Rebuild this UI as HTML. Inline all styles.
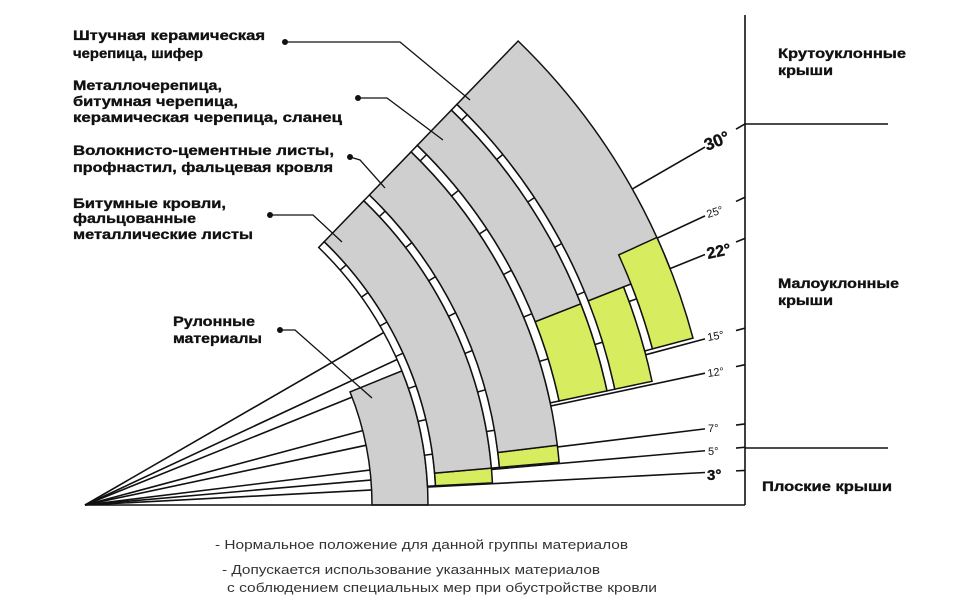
<!DOCTYPE html>
<html><head><meta charset="utf-8"><style>
html,body{margin:0;padding:0;background:#fff;}
svg{display:block}
.t{font-family:"Liberation Sans","DejaVu Sans",sans-serif;font-weight:bold;font-size:14px;fill:#111;stroke:#111;stroke-width:0.35}
.l{font-family:"Liberation Sans","DejaVu Sans",sans-serif;font-size:13px;fill:#333}
</style></head><body>
<svg id="s" width="974" height="604" viewBox="0 0 974 604" xmlns="http://www.w3.org/2000/svg">
<g id="lines" stroke="#111" stroke-width="1.6" fill="none"></g>
<g id="shapes" stroke="#111" stroke-width="1.5"></g>
<g stroke="#111" stroke-width="1.6" fill="none">
<line x1="745" y1="15" x2="745" y2="505"/>
<line x1="85" y1="505" x2="745" y2="505"/>
<line x1="745" y1="124" x2="888" y2="124"/>
<line x1="745" y1="448" x2="888" y2="448"/>
</g>
<g id="ticks" stroke="#111" stroke-width="1.6"></g>
<g stroke="#111" stroke-width="1.3" fill="none">
<polyline points="285,42 400,42 470,100"/>
<polyline points="358,98 387,98 443,140"/>
<polyline points="350,157 360,160 385,188"/>
<polyline points="270,215 313,215 342,242"/>
<polyline points="280,330 295,330 372,398"/>
</g>
<g fill="#111">
<circle cx="285" cy="42" r="3"/><circle cx="358" cy="98" r="3"/><circle cx="350" cy="157" r="3"/><circle cx="270" cy="215" r="3"/><circle cx="280" cy="330" r="3"/>
</g>
<text class="t" x="73" y="40" textLength="192" lengthAdjust="spacingAndGlyphs">Штучная керамическая</text>
<text class="t" x="73" y="58" textLength="130" lengthAdjust="spacingAndGlyphs">черепица, шифер</text>
<text class="t" x="73" y="90" textLength="149" lengthAdjust="spacingAndGlyphs">Металлочерепица,</text>
<text class="t" x="73" y="106" textLength="165" lengthAdjust="spacingAndGlyphs">битумная черепица,</text>
<text class="t" x="73" y="122" textLength="269" lengthAdjust="spacingAndGlyphs">керамическая черепица, сланец</text>
<text class="t" x="73" y="155" textLength="261" lengthAdjust="spacingAndGlyphs">Волокнисто-цементные листы,</text>
<text class="t" x="73" y="172" textLength="260" lengthAdjust="spacingAndGlyphs">профнастил, фальцевая кровля</text>
<text class="t" x="73" y="208" textLength="153" lengthAdjust="spacingAndGlyphs">Битумные кровли,</text>
<text class="t" x="73" y="223" textLength="123" lengthAdjust="spacingAndGlyphs">фальцованные</text>
<text class="t" x="73" y="239" textLength="180" lengthAdjust="spacingAndGlyphs">металлические листы</text>
<text class="t" x="173" y="326" textLength="82" lengthAdjust="spacingAndGlyphs">Рулонные</text>
<text class="t" x="173" y="343" textLength="89" lengthAdjust="spacingAndGlyphs">материалы</text>
<text class="t" x="778" y="58" textLength="128" lengthAdjust="spacingAndGlyphs">Крутоуклонные</text>
<text class="t" x="778" y="75" textLength="55" lengthAdjust="spacingAndGlyphs">крыши</text>
<text class="t" x="778" y="288" textLength="121" lengthAdjust="spacingAndGlyphs">Малоуклонные</text>
<text class="t" x="778" y="305" textLength="55" lengthAdjust="spacingAndGlyphs">крыши</text>
<text class="t" x="762" y="491" textLength="130" lengthAdjust="spacingAndGlyphs">Плоские крыши</text>
<g class="t">
<text x="707" y="151" style="font-size:17px" transform="rotate(-22 707 151)">30°</text>
<text x="708" y="218" style="font-size:11px;font-weight:normal;stroke-width:0" transform="rotate(-18 708 218)">25°</text>
<text x="708" y="259" style="font-size:16px" transform="rotate(-12 708 259)">22°</text>
<text x="708" y="341" style="font-size:11px;font-weight:normal;stroke-width:0" transform="rotate(-10 708 341)">15°</text>
<text x="708" y="377" style="font-size:11px;font-weight:normal;stroke-width:0" transform="rotate(-8 708 377)">12°</text>
<text x="708" y="432" style="font-size:11px;font-weight:normal;stroke-width:0">7°</text>
<text x="708" y="455" style="font-size:11px;font-weight:normal;stroke-width:0">5°</text>
<text x="707" y="480" style="font-size:15px">3°</text>
</g>
<text class="l" x="215" y="549" textLength="413" lengthAdjust="spacingAndGlyphs">- Нормальное положение для данной группы материалов</text>
<text class="l" x="222" y="574" textLength="378" lengthAdjust="spacingAndGlyphs">- Допускается использование указанных материалов</text>
<text class="l" x="227" y="592" textLength="430" lengthAdjust="spacingAndGlyphs">с соблюдением специальных мер при обустройстве кровли</text>
</svg>
<script>
(function(){
var NS="http://www.w3.org/2000/svg",cx=70,cy=505,d=Math.PI/180;
function P(r,a){return (cx+r*Math.cos(a*d)).toFixed(1)+","+(cy-r*Math.sin(a*d)).toFixed(1);}
function sec(r1,r2,a1,a2){return "M"+P(r1,a1)+" L"+P(r2,a1)+" A"+r2+" "+r2+" 0 0 0 "+P(r2,a2)+" L"+P(r1,a2)+" A"+r1+" "+r1+" 0 0 1 "+P(r1,a1)+" Z";}
var sh=document.getElementById("shapes");
function add(p,f){var e=document.createElementNS(NS,"path");e.setAttribute("d",p);e.setAttribute("fill",f);sh.appendChild(e);}
function ln(g,x1,y1,x2,y2){var e=document.createElementNS(NS,"line");e.setAttribute("x1",x1);e.setAttribute("y1",y1);e.setAttribute("x2",x2);e.setAttribute("y2",y2);g.appendChild(e);}
var G="#cfcfcf",Y="#d7ec5e",W="#fff";
var lg=document.getElementById("lines"),tg=document.getElementById("ticks");
[3,5,7,12,15,22,25,30].forEach(function(a){var t=Math.tan(a*d);ln(lg,85,505,705,505-620*t);ln(tg,736,505-651*t,745,505-660*t);});
function strip(r1,r2,a1,a2){add(sec(r1,r2,a1,a2),W);for(var a=a1+5;a<a2-1;a+=5.5){var e=document.createElementNS(NS,"path");e.setAttribute("d","M"+P(r1,a)+" L"+P(r2,a));sh.appendChild(e);}}
var T=46;
add(sec(302,358,0,22),G);
strip(358,366,3,T);
add(sec(366,423,3,5),Y);add(sec(366,423,5,T),G);
strip(423,431,5,T);
add(sec(431,491,5,7),Y);add(sec(431,491,7,T),G);
strip(491,500,12,T);
add(sec(500,549,12,21.5),Y);add(sec(500,549,21.5,T),G);
strip(549,557,12,T);
add(sec(557,645,21.5,T),G);
add(sec(557,595,12,21.5),Y);
strip(595,603,15,21.5);
add(sec(603,645,15,24.5),Y);
})();
</script>
</body></html>
